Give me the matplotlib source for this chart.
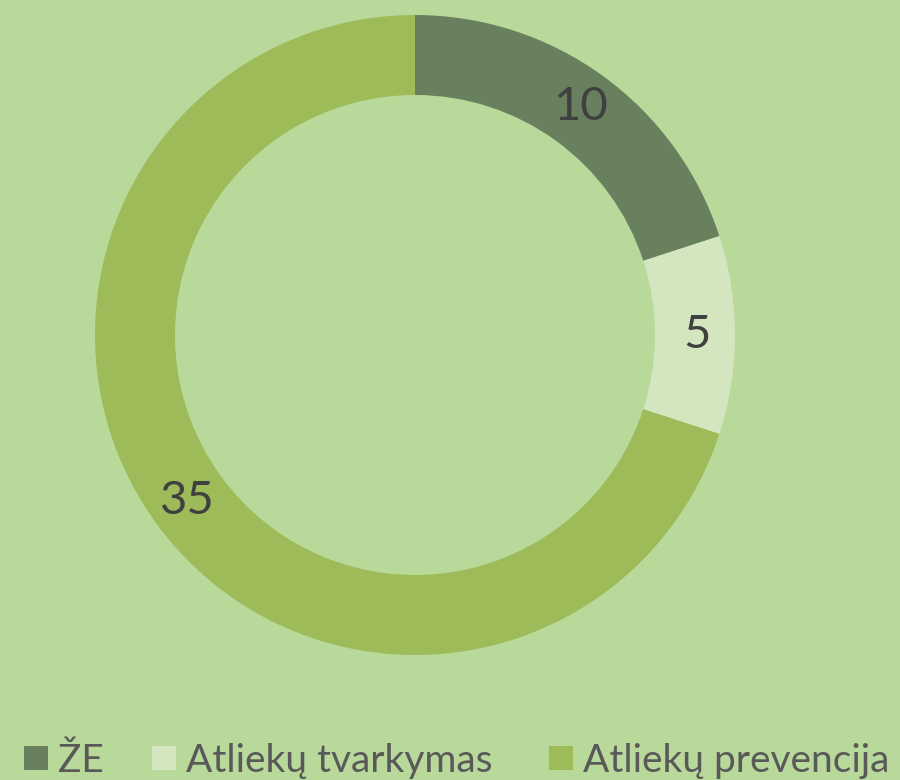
import matplotlib
matplotlib.use("Agg")
import matplotlib.pyplot as plt
from matplotlib.patches import Rectangle

# Duomenys
kategorijos = ["ŽE", "Atliekų tvarkymas", "Atliekų prevencija"]
reiksmes = [10, 5, 35]
spalvos = ["#68805E", "#D3E6C0", "#9DBB59"]
fonas = "#B9D99A"

plt.rcParams["font.family"] = ["Lato", "DejaVu Sans"]

fig = plt.figure(figsize=(9, 7.8), dpi=100, facecolor=fonas)
ax = fig.add_axes([95 / 900, 125 / 780, 640 / 900, 640 / 780])
ax.set_facecolor(fonas)

wedges, texts = ax.pie(
    reiksmes,
    colors=spalvos,
    startangle=90,
    counterclock=False,
    radius=1.0,
    wedgeprops=dict(width=0.25, edgecolor="none"),
    labels=[str(v) for v in reiksmes],
    labeldistance=0.88,
    textprops=dict(fontsize=34, color="#404040", ha="center", va="center"),
)
for t in texts:
    t.set_ha("center")
    t.set_va("center")
ax.set_xlim(-1, 1)
ax.set_ylim(-1, 1)
ax.set_aspect("equal")
ax.axis("off")

# Legenda rankiniu budu (x pozicijos pikseliais)
legend_x = [24, 152, 549]
for x, kat, sp in zip(legend_x, kategorijos, spalvos):
    fig.patches.append(Rectangle((x / 900, 10 / 780), 24 / 900, 24 / 780,
                                 transform=fig.transFigure, facecolor=sp,
                                 edgecolor="none"))
    fig.text((x + 34) / 900, 8 / 780, kat, fontsize=28, color="#595959",
             ha="left", va="baseline")

plt.savefig("out.png", dpi=100, facecolor=fonas)
